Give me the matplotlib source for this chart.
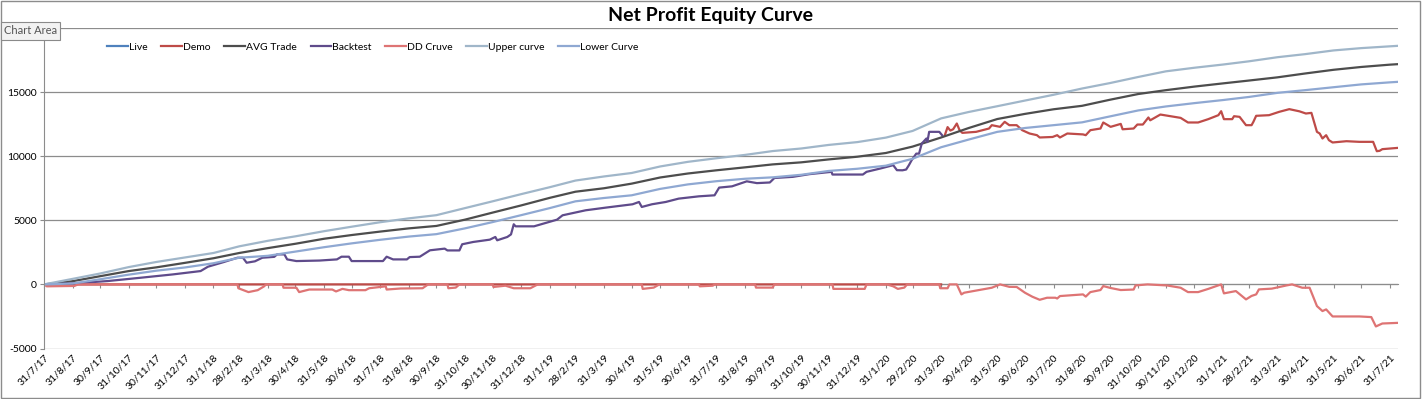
import pandas as pd
import matplotlib
matplotlib.use('Agg')
import matplotlib.pyplot as plt
from matplotlib.patches import Rectangle

plt.rcParams['font.family'] = ['Lato', 'DejaVu Sans']

# month-end categories on the x axis
month_ends = pd.date_range('2017-07-31', '2021-07-31', freq='ME')
tick_labels = [f'{d.day}/{d.month}/{d.year % 100}' for d in month_ends]
curve_dates = list(month_ends) + [pd.Timestamp('2021-08-09')]
y_ticks = [-5000, 0, 5000, 10000, 15000, 20000]
y_labels = ['-5000', '0', '5000', '10000', '15000', '']  # 20000 sits under the "Chart Area" tip

upper_curve = [0, 430, 850, 1350, 1750, 2100, 2450, 2970, 3400, 3750,
               4150, 4500, 4850, 5150, 5400, 5950, 6480, 7040, 7580, 8100,
               8420, 8690, 9200, 9560, 9840, 10100, 10400, 10600, 10880, 11100,
               11450, 11970, 12950, 13450, 13900, 14340, 14790, 15280, 15700, 16180,
               16620, 16900, 17150, 17400, 17720, 17960, 18250, 18430, 18570, 18610]
avg_trade = [0, 250, 640, 1040, 1330, 1680, 2040, 2450, 2830, 3170,
             3560, 3850, 4120, 4370, 4560, 5050, 5600, 6160, 6750, 7230,
             7500, 7860, 8340, 8650, 8900, 9130, 9360, 9520, 9750, 9960,
             10250, 10750, 11460, 12200, 12900, 13300, 13660, 13930, 14400, 14850,
             15150, 15430, 15680, 15900, 16150, 16450, 16740, 16960, 17140, 17180]
lower_curve = [0, 70, 400, 760, 1070, 1320, 1650, 2080, 2230, 2560,
               2900, 3200, 3480, 3730, 3920, 4370, 4860, 5400, 5950, 6480,
               6740, 6950, 7450, 7800, 8050, 8240, 8350, 8550, 8850, 9020,
               9260, 9800, 10700, 11300, 11900, 12200, 12420, 12640, 13100, 13570,
               13880, 14140, 14380, 14620, 14940, 15150, 15380, 15600, 15760, 15800]

backtest_dates = ['2017-07-31', '2017-09-01', '2017-10-08', '2017-11-13', '2017-12-18',
                  '2018-01-17', '2018-01-25', '2018-02-11', '2018-02-26', '2018-03-04',
                  '2018-03-08', '2018-03-17', '2018-03-25', '2018-04-07', '2018-04-10',
                  '2018-04-18', '2018-04-21', '2018-05-01', '2018-05-26', '2018-06-14',
                  '2018-06-19', '2018-06-27', '2018-06-30', '2018-08-03', '2018-08-07',
                  '2018-08-14', '2018-08-29', '2018-09-01', '2018-09-12', '2018-09-23',
                  '2018-10-09', '2018-10-12', '2018-10-25', '2018-10-28', '2018-11-09',
                  '2018-11-27', '2018-12-03', '2018-12-05', '2018-12-16', '2018-12-20',
                  '2018-12-23', '2018-12-25', '2019-01-14', '2019-02-08', '2019-02-14',
                  '2019-03-11', '2019-04-02', '2019-05-01', '2019-05-08', '2019-05-11',
                  '2019-05-22', '2019-06-06', '2019-06-20', '2019-07-12', '2019-07-29',
                  '2019-08-03', '2019-08-17', '2019-09-02', '2019-09-13', '2019-09-27',
                  '2019-10-02', '2019-10-22', '2019-11-09', '2019-12-03', '2019-12-04',
                  '2020-01-06', '2020-01-10', '2020-01-25', '2020-02-08', '2020-02-12',
                  '2020-02-18', '2020-02-22', '2020-02-25', '2020-02-28', '2020-03-04',
                  '2020-03-07', '2020-03-10', '2020-03-15', '2020-03-16', '2020-03-18',
                  '2020-03-29', '2020-04-01']
backtest = [0, 80, 260, 520, 780,
            1040, 1380, 1740, 2080, 2080,
            1690, 1800, 2080, 2150, 2340,
            2340, 1950, 1820, 1860, 1950,
            2160, 2160, 1820, 1820, 2160,
            1950, 1950, 2130, 2160, 2660,
            2790, 2650, 2650, 3130, 3310,
            3490, 3700, 3440, 3700, 3900,
            4690, 4530, 4530, 5050, 5390,
            5780, 5990, 6250, 6430, 6040,
            6250, 6430, 6690, 6870, 6950,
            7550, 7650, 8040, 7900, 7950,
            8300, 8390, 8600, 8780, 8570,
            8570, 8780, 9040, 9300, 8910,
            8900, 8960, 9300, 9690, 10200,
            10200, 10990, 11380, 11100, 11900,
            11900, 11640]

demo_dates = ['2017-07-31', '2020-03-31', '2020-04-02',
              '2020-04-04', '2020-04-07', '2020-04-10', '2020-04-13', '2020-04-17',
              '2020-04-20', '2020-04-23', '2020-05-08', '2020-05-22', '2020-05-25',
              '2020-06-03', '2020-06-08', '2020-06-13', '2020-06-21', '2020-06-27',
              '2020-07-05', '2020-07-13', '2020-07-16', '2020-07-30', '2020-08-04',
              '2020-08-07', '2020-08-15', '2020-09-01', '2020-09-04', '2020-09-09',
              '2020-09-20', '2020-09-23', '2020-10-01', '2020-10-12', '2020-10-14',
              '2020-10-26', '2020-10-30', '2020-11-05', '2020-11-11', '2020-11-13',
              '2020-11-24', '2020-12-05', '2020-12-16', '2020-12-24', '2021-01-04',
              '2021-01-15', '2021-01-26', '2021-01-29', '2021-02-01', '2021-02-10',
              '2021-02-12', '2021-02-18', '2021-02-25', '2021-03-03', '2021-03-05',
              '2021-03-08', '2021-03-22', '2021-04-02', '2021-04-13', '2021-04-24',
              '2021-05-01', '2021-05-07', '2021-05-13', '2021-05-16', '2021-05-19',
              '2021-05-23', '2021-05-26', '2021-05-30', '2021-06-14', '2021-06-28',
              '2021-07-13', '2021-07-17', '2021-07-20', '2021-07-23', '2021-08-09']
demo = [0, 0, None,
        11640, 12270, 12000, 12100, 12550,
        12030, 11820, 11900, 12160, 12420,
        12290, 12680, 12420, 12420, 12030,
        11770, 11640, 11460, 11500, 11640,
        11460, 11770, 11700, 11640, 12030,
        12160, 12630, 12290, 12520, 12100,
        12160, 12470, 12470, 13020, 12800,
        13250, 13120, 12990, 12630, 12630,
        12890, 13200, 13510, 12890, 12890,
        13120, 13070, 12420, 12420, 12680,
        13150, 13200, 13460, 13670, 13500,
        13330, 13380, 11900, 11770, 11380,
        11640, 11250, 11070, 11170, 11120,
        11120, 10390, 10420, 10550, 10650]

dd_dates = ['2017-07-31', '2017-08-03', '2017-09-02', '2017-09-06', '2018-02-26',
            '2018-02-27', '2018-03-10', '2018-03-20', '2018-03-27', '2018-03-29',
            '2018-04-16', '2018-04-17', '2018-05-01', '2018-05-04', '2018-05-15',
            '2018-06-09', '2018-06-13', '2018-06-20', '2018-06-27', '2018-07-15',
            '2018-07-19', '2018-08-06', '2018-08-07', '2018-08-22', '2018-09-15',
            '2018-09-21', '2018-10-12', '2018-10-13', '2018-10-21', '2018-10-25',
            '2018-11-30', '2018-12-01', '2018-12-14', '2018-12-23', '2019-01-10',
            '2019-01-18', '2019-05-11', '2019-05-12', '2019-05-24', '2019-05-30',
            '2019-07-12', '2019-07-13', '2019-07-27', '2019-07-29', '2019-09-11',
            '2019-09-12', '2019-09-30', '2019-10-02', '2019-12-04', '2019-12-05',
            '2020-01-08', '2020-01-10', '2020-02-01', '2020-02-08', '2020-02-13',
            '2020-02-20', '2020-02-23', '2020-03-29', '2020-03-30', '2020-04-07',
            '2020-04-09', '2020-04-17', '2020-04-22', '2020-04-25', '2020-05-25',
            '2020-06-03', '2020-06-13', '2020-06-21', '2020-06-30', '2020-07-08',
            '2020-07-16', '2020-07-24', '2020-08-02', '2020-08-04', '2020-08-07',
            '2020-09-01', '2020-09-04', '2020-09-09', '2020-09-20', '2020-09-23',
            '2020-10-01', '2020-10-12', '2020-10-26', '2020-10-28', '2020-11-10',
            '2020-12-01', '2020-12-16', '2020-12-24', '2021-01-04', '2021-01-15',
            '2021-01-29', '2021-02-01', '2021-02-14', '2021-02-25', '2021-03-03',
            '2021-03-08', '2021-03-11', '2021-03-25', '2021-04-10', '2021-04-16',
            '2021-04-27', '2021-05-05', '2021-05-13', '2021-05-19', '2021-05-23',
            '2021-05-30', '2021-06-28', '2021-07-11', '2021-07-16', '2021-07-23',
            '2021-08-09']
dd_curve = [0, -150, -120, 0, 0,
            -300, -600, -450, -150, 0,
            0, -260, -260, -600, -400,
            -400, -550, -350, -450, -450,
            -300, -150, -400, -320, -300,
            0, 0, -300, -250, 0,
            0, -200, -100, -300, -300,
            0, 0, -350, -250, 0,
            0, -150, -100, 0, 0,
            -250, -250, 0, 0, -350,
            -350, 0, 0, -150, -350,
            -250, 0, 0, -300, -300,
            0, 0, -780, -650, -260,
            0, -190, -200, -650, -960,
            -1200, -1040, -1040, -1100, -910,
            -780, -950, -600, -440, -130,
            -280, -440, -400, -80, 0,
            -80, -260, -600, -600, -350,
            0, -700, -520, -1170, -900,
            -780, -390, -330, -80, 0,
            -260, -260, -1690, -2080, -1950,
            -2500, -2500, -2550, -3280, -3050,
            -3000]

grid_col = '#8c8c8c'

fig = plt.figure(figsize=(14.22, 3.99), dpi=100)
ax = fig.add_axes([44 / 1422, 1 - 348.5 / 399, (1398 - 44) / 1422, (348.5 - 28) / 399])

ax.plot([], [], color='#4F81BD', lw=1.6, label='Live')
ax.plot(pd.to_datetime(demo_dates), pd.Series(demo, dtype=float), color='#BE4B48', lw=1.6, label='Demo')
ax.plot(curve_dates, avg_trade, color='#4D4D4D', lw=1.6, label='AVG Trade')
ax.plot(pd.to_datetime(backtest_dates), backtest, color='#5F4B8B', lw=1.6, label='Backtest')
ax.plot(pd.to_datetime(dd_dates), dd_curve, color='#DE7474', lw=1.6, label='DD Cruve')
ax.plot(curve_dates, upper_curve, color='#A0B6C9', lw=1.6, label='Upper curve')
ax.plot(curve_dates, lower_curve, color='#8FA8D2', lw=1.6, label='Lower Curve')

ax.set_xlim(pd.Timestamp('2017-07-31'), pd.Timestamp('2021-08-09'))
ax.set_ylim(-5000, 20000)
ax.set_yticks(y_ticks)
ax.set_yticklabels(y_labels)
ax.grid(axis='y', color=grid_col, lw=0.9)
ax.set_axisbelow(True)
for s in ['top', 'right', 'bottom']:
    ax.spines[s].set_visible(False)
ax.spines['left'].set_color(grid_col)
ax.tick_params(axis='y', length=3, color=grid_col, labelsize=7.5, pad=2)

ax.set_xticks(month_ends)
ax.set_xticklabels(tick_labels, rotation=45, ha='right', rotation_mode='anchor', fontsize=7.5)
ax.tick_params(axis='x', length=0, pad=3)

# category axis crossing at zero with its tick marks
sec = ax.secondary_xaxis(0.2)
sec.set_xticks(month_ends)
sec.set_xticklabels([])
sec.tick_params(length=3, color=grid_col)
sec.spines['bottom'].set_color(grid_col)

fig.text(711 / 1422, 1 - 16 / 399, 'Net Profit Equity Curve', ha='center', va='center',
         fontsize=14, fontweight='bold')

handles, labels = ax.get_legend_handles_labels()
fig.legend(handles, labels, loc='center left', bbox_to_anchor=(98 / 1422, 1 - 47 / 399),
           ncol=7, frameon=False, fontsize=7.5, handlelength=2.0, handletextpad=0.1,
           columnspacing=1.3)

fig.text(4 / 1422, 1 - 31 / 399, 'Chart Area', ha='left', va='center', fontsize=8,
         color='#555555', bbox=dict(boxstyle='square,pad=0.3', fc='#f2f2f2', ec='#8a8a8a', lw=0.8))
fig.add_artist(Rectangle((0.0005, 0.002), 0.998, 0.995, transform=fig.transFigure,
                         fill=False, ec=grid_col, lw=1))

fig.savefig('out.png', dpi=100)
